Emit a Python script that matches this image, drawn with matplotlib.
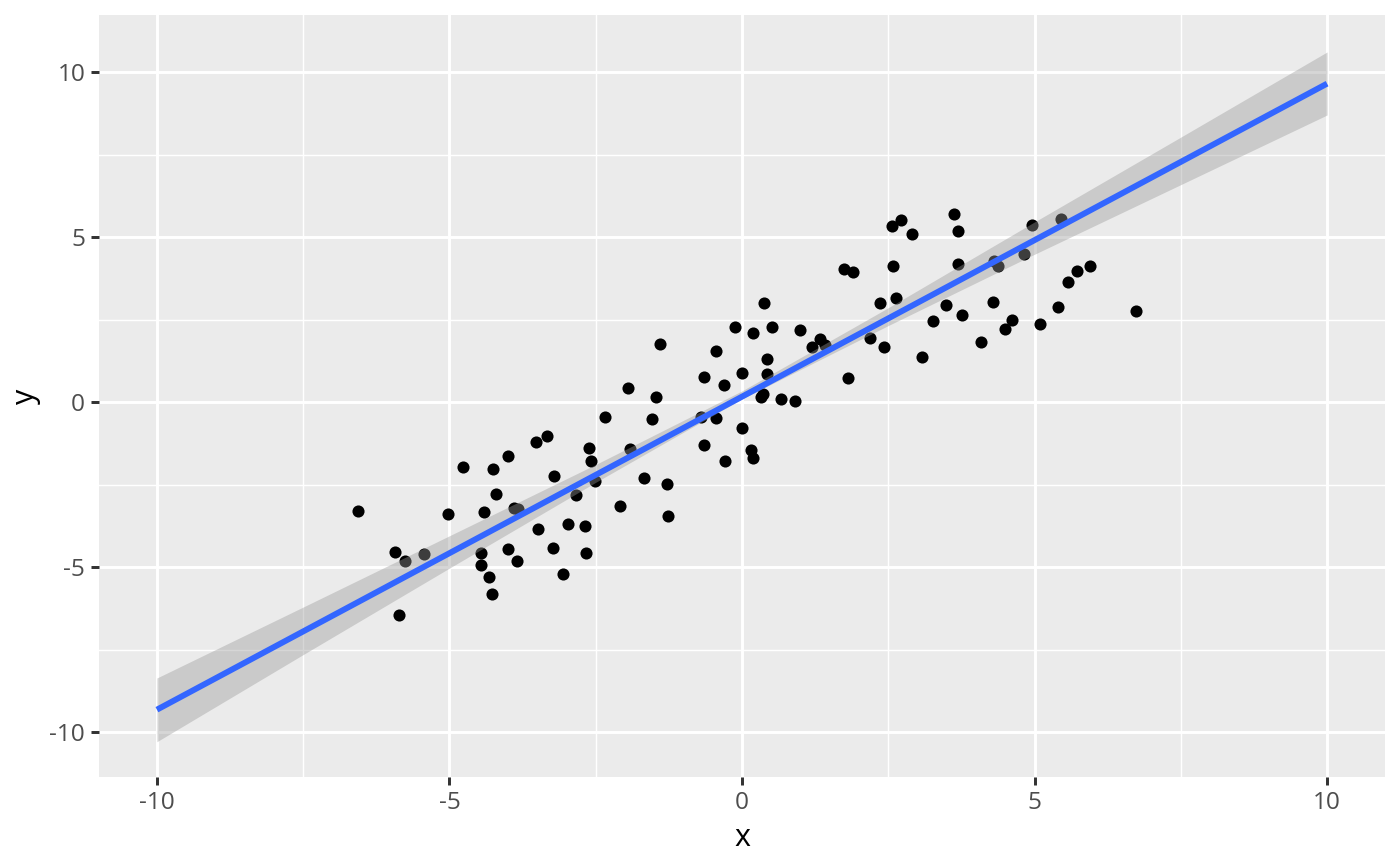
import numpy as np
import matplotlib
matplotlib.use("Agg")
import matplotlib.pyplot as plt
from matplotlib.ticker import MultipleLocator

x = [-6.56, -5.93, -5.86, -5.76, -5.44, -5.03, -4.77, -4.46, -4.46, -4.41,
     -4.33, -4.27, -4.26, -4.21, -4.00, -4.00, -3.90, -3.85, -3.83, -3.52,
     -3.49, -3.33, -3.23, -3.21, -3.06, -2.97, -2.84, -2.68, -2.67, -2.62,
     -2.58, -2.51, -2.34, -2.09, -1.95, -1.92, -1.68, -1.54, -1.47, -1.40,
     -1.28, -1.27, -0.70, -0.65, -0.65, -0.44, -0.44, -0.31, -0.29, -0.12,
     0.00, 0.00, 0.15, 0.19, 0.19, 0.33, 0.36, 0.38, 0.43, 0.43,
     0.51, 0.67, 0.91, 0.99, 1.20, 1.33, 1.42, 1.74, 1.81, 1.90,
     2.19, 2.36, 2.43, 2.56, 2.58, 2.63, 2.72, 2.91, 3.08, 3.27,
     3.49, 3.62, 3.69, 3.69, 3.76, 4.09, 4.29, 4.31, 4.38, 4.50,
     4.62, 4.82, 4.96, 5.09, 5.40, 5.45, 5.57, 5.73, 5.95, 6.74]
y = [-3.30, -4.55, -6.46, -4.82, -4.61, -3.39, -1.97, -4.58, -4.94, -3.33,
     -5.30, -5.82, -2.03, -2.79, -1.64, -4.45, -3.21, -4.82, -3.24, -1.21,
     -3.85, -1.03, -4.42, -2.24, -5.21, -3.70, -2.82, -3.76, -4.58, -1.39,
     -1.79, -2.39, -0.45, -3.15, 0.42, -1.42, -2.30, -0.52, 0.15, 1.76,
     -2.48, -3.45, -0.45, 0.76, -1.30, 1.55, -0.48, 0.52, -1.79, 2.27,
     0.88, -0.79, -1.45, 2.09, -1.70, 0.15, 0.24, 3.00, 1.30, 0.85,
     2.27, 0.09, 0.03, 2.18, 1.67, 1.91, 1.73, 4.03, 0.73, 3.94,
     1.94, 3.00, 1.67, 5.33, 4.12, 3.15, 5.52, 5.09, 1.36, 2.45,
     2.94, 5.70, 5.18, 4.18, 2.64, 1.82, 3.03, 4.27, 4.12, 2.21,
     2.48, 4.48, 5.36, 2.36, 2.88, 5.55, 3.64, 3.97, 4.12, 2.76]

# fitted line and confidence band
fit_x = [-10, 10]
fit_y = [-9.32, 9.65]
band_x = [-10, -7.5, -5, -2.5, 0, 2.5, 5, 7.5, 10]
band_lower = [-10.29, -7.65, -5.03, -2.43, 0.10, 2.32, 4.48, 6.59, 8.70]
band_upper = [-8.36, -6.21, -4.05, -1.89, 0.34, 2.86, 5.46, 8.03, 10.61]

x_ticks = [-10, -5, 0, 5, 10]
y_ticks = [-10, -5, 0, 5, 10]

plt.rcParams['font.family'] = ['Open Sans', 'DejaVu Sans']
fig = plt.figure(figsize=(7, 4.33), dpi=200)
ax = fig.add_axes([99 / 1400, 1 - 777 / 866, (1385 - 99) / 1400, (777 - 15) / 866])
ax.set_facecolor('#EBEBEB')
for sp in ax.spines.values():
    sp.set_visible(False)

ax.xaxis.set_major_locator(MultipleLocator(5))
ax.yaxis.set_major_locator(MultipleLocator(5))
ax.xaxis.set_minor_locator(MultipleLocator(2.5))
ax.yaxis.set_minor_locator(MultipleLocator(2.5))
ax.grid(which='major', color='white', linewidth=1.07)
ax.grid(which='minor', color='white', linewidth=0.53)
ax.set_axisbelow(True)

ax.scatter(x, y, s=19, color='black', linewidths=0, zorder=2)
ax.fill_between(band_x, band_lower, band_upper, color='#999999', alpha=0.4,
                linewidth=0, zorder=3)
ax.plot(fit_x, fit_y, color='#3366FF', linewidth=2.13, zorder=4, solid_capstyle='butt')

ax.set_xlim(-10.99, 10.99)
ax.set_ylim(-11.36, 11.73)
ax.set_xticks(x_ticks)
ax.set_yticks(y_ticks)
ax.set_xticklabels([str(v) for v in x_ticks])
ax.set_yticklabels([str(v) for v in y_ticks])
ax.tick_params(which='major', length=2.75, width=1.07, color='#333333',
               labelcolor='#4D4D4D', labelsize=8.8, pad=2.2)
ax.tick_params(which='minor', length=0)
ax.set_xlabel('x', fontsize=11, color='black', labelpad=3)
ax.set_ylabel('y', fontsize=11, color='black', labelpad=3)

fig.savefig('out.png', dpi=200)
